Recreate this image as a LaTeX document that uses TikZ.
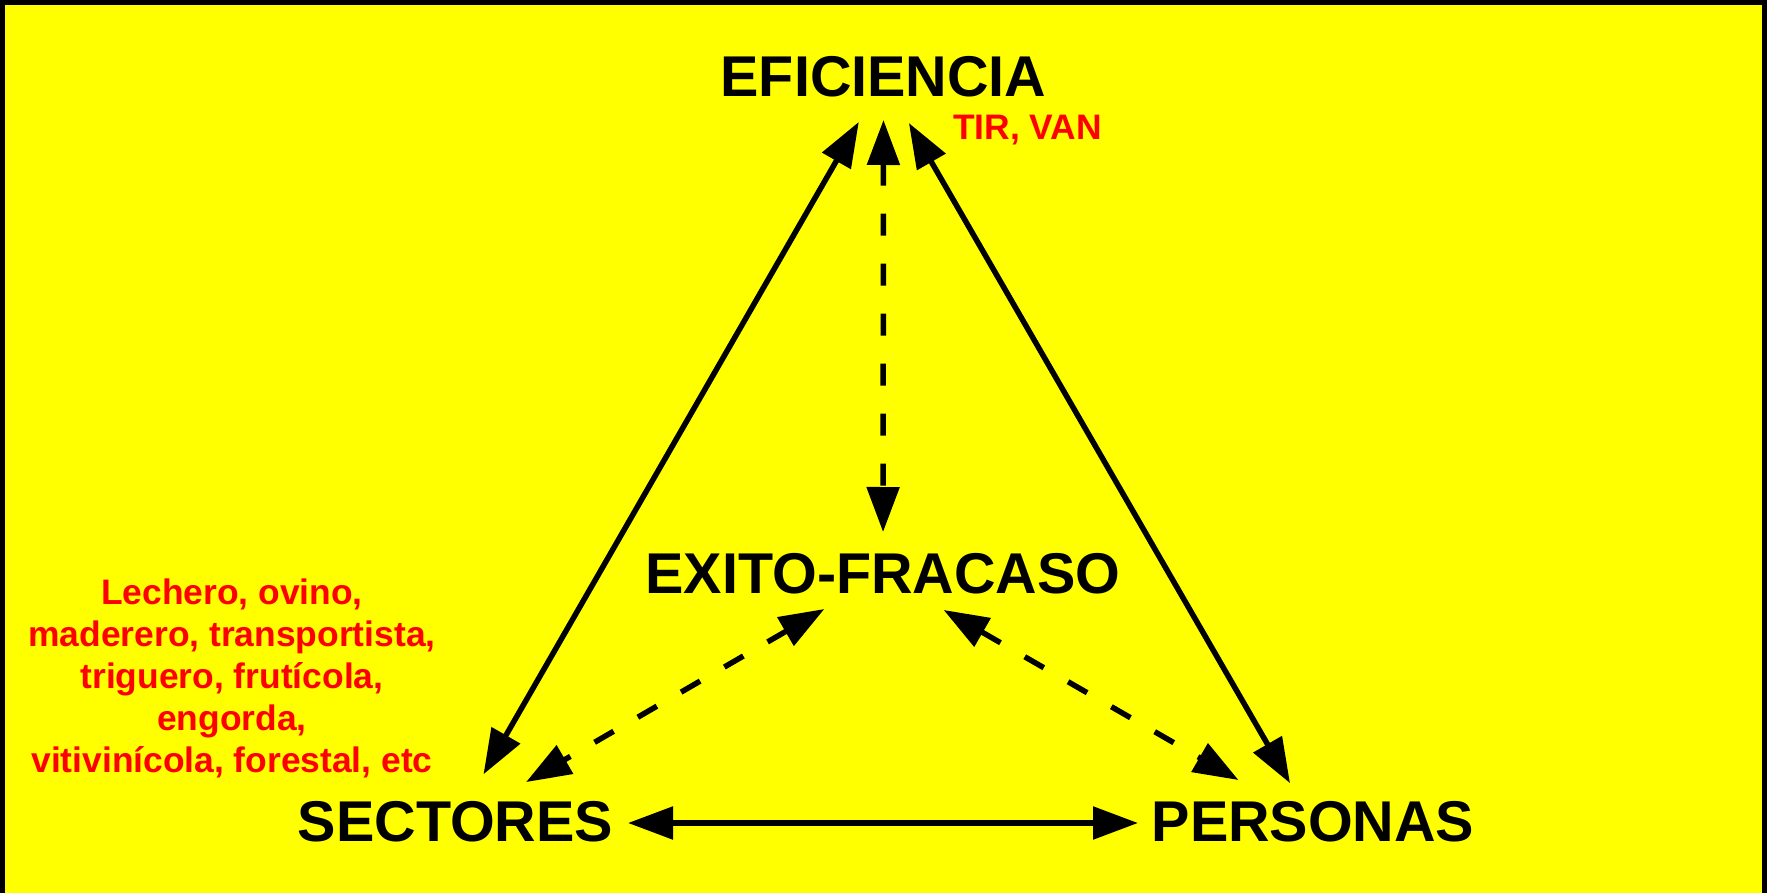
\documentclass[tikz,border=0pt]{standalone}
\usepackage{fontspec}
\setmainfont{Liberation Sans}
\usetikzlibrary{arrows.meta}
\definecolor{bgyellow}{RGB}{255,255,0}
\definecolor{notered}{RGB}{255,0,0}
\begin{document}
\begin{tikzpicture}[x=0.5pt,y=-0.5pt,
  >={Triangle[length=22.5pt,width=16pt]},
  big/.style={font=\bfseries\fontsize{28.75}{34}\selectfont, inner sep=0pt, text height=21pt, text depth=3pt},
  note/.style={font=\bfseries\fontsize{17.7}{20.9}\selectfont, text=notered, inner sep=0pt},
  link/.style={line width=2.75pt, <->},
  dashlink/.style={link, dash pattern=on 11pt off 14pt}
]
\useasboundingbox (0,0) rectangle (1767,893);
\fill[black] (0,0) rectangle (1767,893);
\fill[bgyellow] (5,5) rectangle (1762,893);

\node[big] (E) at (883.5,79) {EFICIENCIA};
\node[big] (X) at (883,575) {EXITO-FRACASO};
\node[big] (S) at (455.5,823) {SECTORES};
\node[big] (P) at (1313,823) {PERSONAS};
\node[note, anchor=base] (tv) at (1027.5,140) {TIR, VAN};
\node[note, anchor=base, align=center] (sec) at (232,772) {Lechero, ovino,\\ maderero, transportista,\\ triguero, frutícola,\\ engorda,\\ vitivinícola, forestal, etc};

\draw[link, shorten <=24.75pt, shorten >=28.1pt] (E.center) -- (S.center);
\draw[link, shorten <=25.4pt, shorten >=23pt] (E.center) -- (P.center);
\draw[dashlink, shorten <=20.5pt, shorten >=21.5pt] (E.center) -- (X.center);
\draw[dashlink, shorten <=33.9pt, shorten >=40.8pt] (X.center) -- (S.center);
\draw[dashlink, shorten <=35pt, shorten >=43pt] (X.center) -- (P.center);
\draw[link, shorten <=86.25pt, shorten >=87.5pt] (S.center) -- (P.center);
\end{tikzpicture}
\end{document}
